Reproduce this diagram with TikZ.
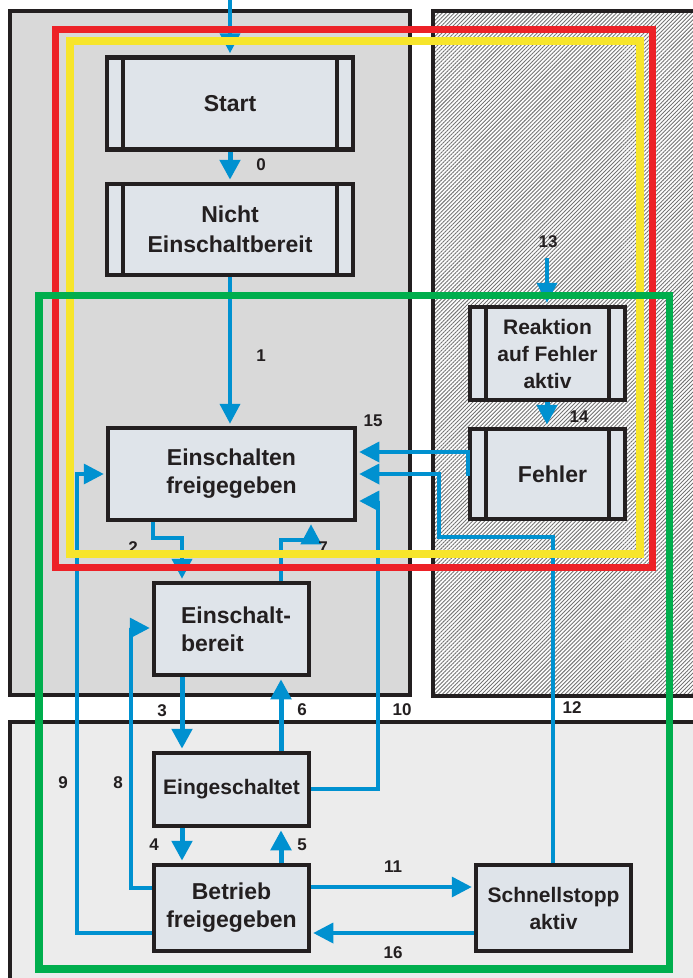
\documentclass[tikz,border=0pt]{standalone}
\usepackage{fontspec}
\setmainfont{Liberation Sans}
\usetikzlibrary{arrows.meta,patterns.meta,calc}
\definecolor{pgray}{HTML}{D9D9D9}
\definecolor{lgray}{HTML}{ECECEC}
\definecolor{boxfill}{HTML}{DFE4EA}
\definecolor{bord}{HTML}{231F20}
\definecolor{flow}{HTML}{0091D0}
\definecolor{fred}{HTML}{ED2127}
\definecolor{fyellow}{HTML}{F7E52B}
\definecolor{fgreen}{HTML}{00AE4D}
\begin{document}
\begin{tikzpicture}[x=1pt,y=-1pt,
  box/.style={draw=bord, line width=4.5pt, fill=boxfill, text=bord, align=center, inner sep=0pt,
    font=\fontsize{23}{28}\selectfont\bfseries},
  narrowtext/.style={font=\fontsize{21}{27}\selectfont\bfseries},
  bar/.style={draw=bord, line width=4pt},
  arr/.style={draw=flow, line width=3.5pt, -{Triangle[length=20pt,width=20pt]}, shorten >=2pt},
  arrm/.style={arr, line width=4pt},
  arrk/.style={arr, line width=5pt},
  lab/.style={font=\fontsize{17}{17}\selectfont\bfseries, text=bord, inner sep=0pt},
  panel/.style={draw=bord, line width=4pt},
  frame/.style={line width=7.5pt}]
\useasboundingbox (0,0) rectangle (693,978);
\clip (0,0) rectangle (693,978);
\fill[white] (0,0) rectangle (693,978);
% panels
\draw[panel, fill=pgray] (10,11) rectangle (410,695);
\draw[panel, preaction={fill=white}, pattern={Lines[angle=45,distance=2.8pt,line width=0.9pt]}, pattern color=black!55] (433,11) rectangle (720,696);
\draw[panel, fill=lgray] (10,722) rectangle (720,1000);
% nodes
\node[box, minimum width=246pt, minimum height=92pt] (start) at (230,103.5) {Start};
\node[box, minimum width=246pt, minimum height=91pt, font=\fontsize{23}{30}\selectfont\bfseries] (nicht) at (230,229.5) {Nicht\\Einschaltbereit};
\node[box, minimum width=247pt, minimum height=92pt] (einfrei) at (231.5,474) {Einschalten\\freigegeben};
\node[box, narrowtext, minimum width=155pt, minimum height=93pt] (reaktion) at (547.5,353.5) {Reaktion\\auf Fehler\\aktiv};
\node[box, minimum width=155pt, minimum height=90pt] (fehler) at (547.5,474) {\hspace*{10pt}Fehler};
\node[box, minimum width=155pt, minimum height=92pt, align=left] (bereit) at (231.5,629) {\hspace*{9pt}Einschalt-\\\hspace*{9pt}bereit};
\node[box, narrowtext, minimum width=155pt, minimum height=73pt] (einges) at (231.5,789.5) {Eingeschaltet};
\node[box, minimum width=155pt, minimum height=86pt] (betrieb) at (231.5,908) {Betrieb\\freigegeben};
\node[box, narrowtext, minimum width=155pt, minimum height=86pt] (schnell) at (553.5,908) {Schnellstopp\\aktiv};
\foreach \n in {start,nicht,reaktion,fehler}{
  \draw[bar] ($(\n.north west)+(18,0)$) -- ($(\n.south west)+(18,0)$);
  \draw[bar] ($(\n.north east)+(-18,0)$) -- ($(\n.south east)+(-18,0)$);
}
% connectors
\coordinate (in0) at (230,0);
\coordinate (in13) at (547,258);
\draw[arrm] (in0) -- (start.north);
\draw[arrk] (start.south) -- (nicht.north);
\draw[arrm] (nicht.south) -- (nicht.south |- einfrei.north);
\draw[arrm] (einfrei.south -| 153,0) -- (153,538) -- (182,538) -- (bereit.north -| 182,0);
\draw[arrm] (bereit.north -| 281,0) -- (281,540) -- (311,540) -- (einfrei.south -| 311,0);
\draw[arr] (fehler.west |- 0,452) -- (einfrei.east |- 0,452);
\draw[flow, line width=4pt] (468,450) -- (468,476);
\draw[arr] (schnell.north -| 553,0) -- (553,537) -- (439,537) -- (439,474) -- (einfrei.east |- 0,474);
\draw[arr] (einges.east |- 0,789) -- (378,789) -- (378,501) -- (einfrei.east |- 0,501);
\draw[arr] (betrieb.west |- 0,933) -- (77,933) -- (77,474) -- (einfrei.west |- 0,474);
\draw[arr] (betrieb.west |- 0,888) -- (131,888) -- (131,628) -- (bereit.west |- 0,628);
\draw[arrk] (bereit.south -| 182,0) -- (einges.north -| 182,0);
\draw[arrk] (einges.north -| 281,0) -- (bereit.south -| 281,0);
\draw[arrk] (einges.south -| 182,0) -- (betrieb.north -| 182,0);
\draw[arrk] (betrieb.north -| 281,0) -- (einges.south -| 281,0);
\draw[arr] (betrieb.east |- 0,887) -- (schnell.west |- 0,887);
\draw[arr] (schnell.west |- 0,933) -- (betrieb.east |- 0,933);
\draw[arrk] (reaktion.south -| in13) -- (fehler.north -| in13);
\draw[arrm] (in13) -- (reaktion.north -| in13);
% labels
\node[lab] (l0) at (261,165) {0};
\node[lab] (l1) at (261,356) {1};
\node[lab] (l2) at (133,548) {2};
\node[lab] (l3) at (162,711) {3};
\node[lab] (l4) at (154,845) {4};
\node[lab] (l5) at (302,845) {5};
\node[lab] (l6) at (302,710) {6};
\node[lab] (l7) at (323,548) {7};
\node[lab] (l8) at (118,783) {8};
\node[lab] (l9) at (63,783) {9};
\node[lab] (l10) at (402,710) {10};
\node[lab] (l11) at (393,867) {11};
\node[lab] (l12) at (572,708) {12};
\node[lab] (l13) at (548,242) {13};
\node[lab] (l14) at (579,417) {14};
\node[lab] (l15) at (373,421) {15};
\node[lab] (l16) at (393,953) {16};
% frames
\draw[frame, draw=fred, line width=7pt] (55.5,29) rectangle (652,567);
\draw[frame, draw=fyellow] (70,41) rectangle (640,554);
\draw[frame, draw=fgreen] (39,295.5) rectangle (669.5,969);
\end{tikzpicture}
\end{document}
